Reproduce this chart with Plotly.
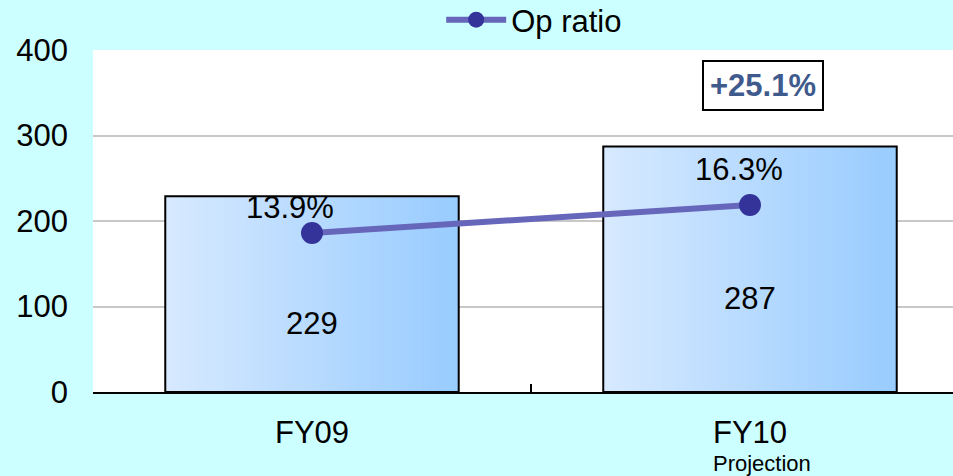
import plotly.graph_objects as go

categories = ["FY09", "FY10"]
tick_labels = ["FY09", "FY10"]
sub_label = "Projection"
op_income = [229, 287]
op_ratio = [13.9, 16.3]
op_ratio_labels = ["13.9%", "16.3%"]
growth_label = "+25.1%"

FONT = "Liberation Sans, Arial, sans-serif"
FS = 31
BAR_W = 0.67
N_SLICES = 40
left_rgb = (214, 233, 255)
right_rgb = (153, 204, 255)
ratio_label_shift = [(-22, 25), (-11, 35)]

fig = go.Figure()

# gradient bars drawn as narrow slices
sw = BAR_W / N_SLICES
for i in range(N_SLICES):
    t = i / (N_SLICES - 1)
    c = tuple(round(left_rgb[k] + (right_rgb[k] - left_rgb[k]) * t) for k in range(3))
    off = -BAR_W / 2 + i * sw
    w = min(sw * 1.6, BAR_W / 2 - off)
    fig.add_trace(go.Bar(
        x=categories, y=op_income,
        width=[w] * len(categories),
        offset=[off] * len(categories),
        marker=dict(color="rgb(%d,%d,%d)" % c, line=dict(width=0)),
        showlegend=False, hoverinfo="skip",
    ))

# outline
fig.add_trace(go.Bar(
    x=categories, y=op_income, width=[BAR_W] * len(categories),
    marker=dict(color="rgba(0,0,0,0)", line=dict(color="#000000", width=2)),
    showlegend=False, hoverinfo="skip",
))

fig.add_trace(go.Scatter(
    x=categories, y=op_ratio, yaxis="y2", name="Op ratio",
    mode="lines+markers",
    line=dict(color="#6666BB", width=6),
    marker=dict(color="#333399", size=22),
    hoverinfo="skip",
))

for c, v, lab, (dx, dy) in zip(categories, op_ratio, op_ratio_labels, ratio_label_shift):
    fig.add_annotation(x=c, y=v, xref="x", yref="y2", text=lab, showarrow=False,
                       xshift=dx, yshift=dy, font=dict(size=FS, color="#000000", family=FONT))

for c, v in zip(categories, op_income):
    fig.add_annotation(x=c, y=v / 2, xref="x", yref="y", text=str(v),
                       showarrow=False, yshift=-29,
                       font=dict(size=FS, color="#000000", family=FONT))

fig.add_annotation(x=1.03, y=358, xref="x", yref="y", text="<b>%s</b>" % growth_label,
                   showarrow=False, bordercolor="#000000", borderwidth=2, borderpad=6,
                   bgcolor="#FFFFFF",
                   font=dict(size=31, color="#3F5A8C", family=FONT))

fig.add_annotation(x=categories[1], xshift=12, y=-0.208, xref="x", yref="paper",
                   text=sub_label, showarrow=False, yanchor="middle",
                   font=dict(size=22, color="#000000", family=FONT))

fig.update_layout(
    width=953, height=476,
    margin=dict(l=93, r=0, t=50, b=84, autoexpand=False),
    paper_bgcolor="#CCFFFF", plot_bgcolor="#FFFFFF",
    barmode="overlay",
    font=dict(family=FONT, size=FS, color="#000000"),
    showlegend=True,
    legend=dict(orientation="h", x=0.513, xanchor="center", y=0.958, yanchor="middle",
                yref="container", bgcolor="rgba(0,0,0,0)", font=dict(size=FS), itemwidth=60),
    xaxis=dict(type="category", range=[-0.5, 1.4635], tickvals=categories, ticktext=tick_labels,
               showline=True, linecolor="#000000", linewidth=2,
               ticks="inside", tickson="boundaries", ticklen=8, tickcolor="#000000", tickwidth=2,
               showgrid=False, tickfont=dict(size=FS), ticklabelstandoff=12),
    yaxis=dict(range=[0, 400], tickvals=[0, 100, 200, 300, 400], showgrid=True,
               gridcolor="#C8C8C8", gridwidth=2, zeroline=False, showline=False,
               ticks="", tickfont=dict(size=FS), ticklabelstandoff=24),
    yaxis2=dict(overlaying="y", range=[0.27, 29.58], visible=False),
)

fig.write_html("out.html")
